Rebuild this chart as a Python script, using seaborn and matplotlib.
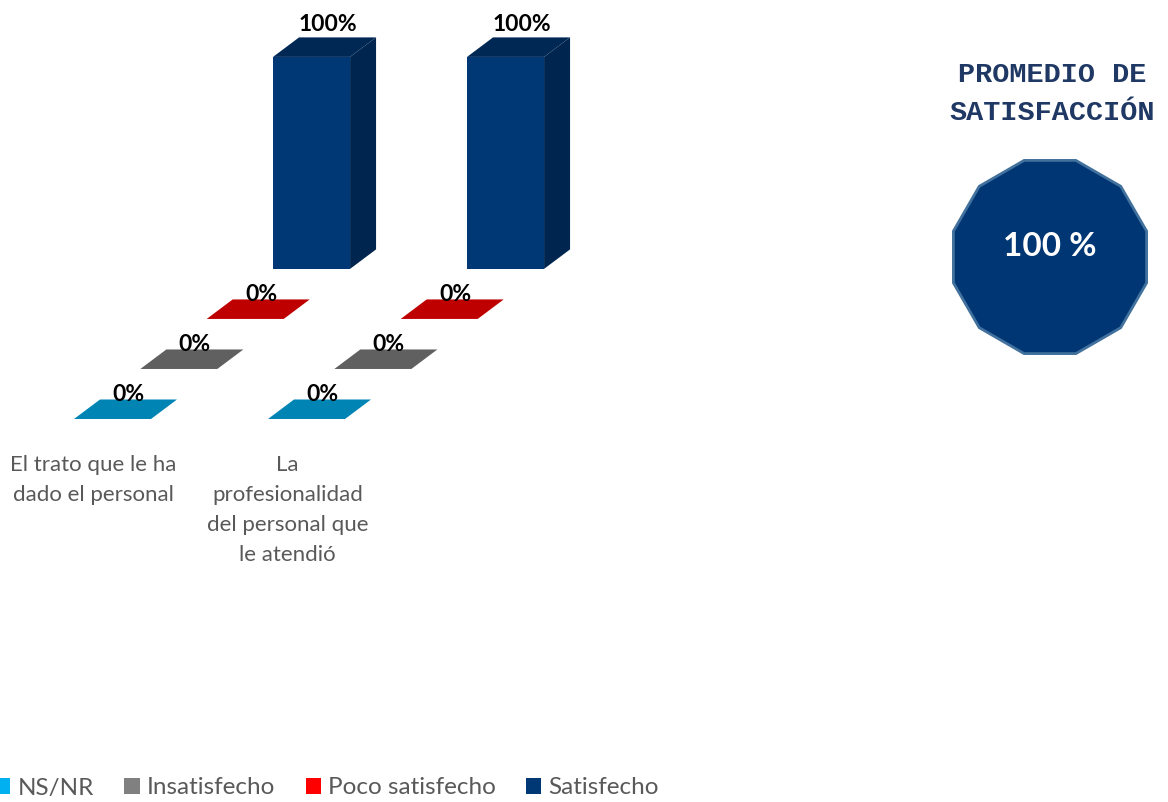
import numpy as np
import matplotlib
matplotlib.use("Agg")
import matplotlib.pyplot as plt
from matplotlib.colors import to_rgb
from matplotlib.patches import Patch, RegularPolygon
import seaborn as sns

# ---- data ----
categories = [
    "El trato que le ha\ndado el personal",
    "La\nprofesionalidad\ndel personal que\nle atendió",
]
series_names = ["NS/NR", "Insatisfecho", "Poco satisfecho", "Satisfecho"]
ns_nr = [0, 0]
insatisfecho = [0, 0]
poco_satisfecho = [0, 0]
satisfecho = [100, 100]
promedio = 100
series_colors = ["#00B0F0", "#808080", "#FF0000", "#003876"]

sns.set_theme(style="white")
plt.rcParams["font.family"] = ["Lato", "DejaVu Sans"]

W, H, DPI = 1168, 802, 100
fig = plt.figure(figsize=(W / DPI, H / DPI), dpi=DPI)
ax = fig.add_axes([0, 0, 1, 1])

# pixel scale of one category step and one percent point
PX_CAT = 194.0
PX_PCT = 2.12
x0_px, y0_px = 74.0, 419.0
ax.set_xlim(-x0_px / PX_CAT, (W - x0_px) / PX_CAT)
ax.set_ylim(-(H - y0_px) / PX_PCT, y0_px / PX_PCT)
ax.axis("off")

bar_w = 0.397
row_dx, row_dy = 0.342, 23.6   # shift between depth rows (series)
box_dx, box_dy = 0.134, 9.2    # thickness of each box


def shade(color, f):
    return tuple(np.array(to_rgb(color)) * f)


values = [ns_nr, insatisfecho, poco_satisfecho, satisfecho]

# draw back rows first so nearer rows sit on top
for s in reversed(range(len(values))):
    front = series_colors[s]
    side = shade(front, 0.68)
    top_c = shade(front, 0.72 if s == 3 else 0.75)
    for c, v in enumerate(values[s]):
        left = c + s * row_dx
        base = s * row_dy
        top = base + v
        if v > 0:
            ax.bar(left, v, width=bar_w, bottom=base, align="edge",
                   color=front, linewidth=0)
            ax.fill([left + bar_w, left + bar_w + box_dx, left + bar_w + box_dx, left + bar_w],
                    [base, base + box_dy, top + box_dy, top], color=side, lw=0)
        ax.fill([left, left + bar_w, left + bar_w + box_dx, left + box_dx],
                [top, top, top + box_dy, top + box_dy], color=top_c, lw=0)
        ax.annotate(f"{v:.0f}%",
                    xy=(left + bar_w / 2 + box_dx / 2, top + box_dy),
                    xytext=(3, 6 if v > 0 else -2), textcoords="offset pixels",
                    ha="center", va="baseline", fontsize=16.5, fontweight="bold",
                    color="black")

# category labels
label_y = (y0_px - 455) / PX_PCT
for c, name in enumerate(categories):
    ax.text(c + 0.1, label_y, name, ha="center", va="top", fontsize=16,
            color="#595959", linespacing=1.62)

# legend
handles = [Patch(facecolor=col, edgecolor="none") for col in series_colors]
fig.legend(handles, series_names, loc="center left",
           bbox_to_anchor=(-0.004, 1 - 788 / H), ncol=4, frameon=False,
           handlelength=0.62, handleheight=0.62, handletextpad=0.3,
           columnspacing=1.25, fontsize=17.5, labelcolor="#595959",
           borderaxespad=0, borderpad=0)

# average satisfaction badge
fig.text(1052 / W, 1 - 94 / H, "PROMEDIO DE\nSATISFACCIÓN", ha="center",
         va="center", family="Liberation Mono", fontweight="bold",
         fontsize=20.5, color="#1F3864", linespacing=1.58)

cx, cy, half = 1050, 257, 120
ax2 = fig.add_axes([(cx - half) / W, 1 - (cy + half) / H, 2 * half / W, 2 * half / H])
ax2.set_xlim(-1.2, 1.2)
ax2.set_ylim(-1.2, 1.2)
ax2.axis("off")
ax2.add_patch(RegularPolygon((0, 0), 12, radius=1.0, orientation=np.pi / 12,
                             facecolor="#003673", edgecolor="#41719C", linewidth=2))
ax2.text(0, 0.1, f"{promedio} %", ha="center", va="center", fontsize=24,
         fontweight="bold", color="white")

fig.savefig("out.png", dpi=DPI, facecolor="white")
